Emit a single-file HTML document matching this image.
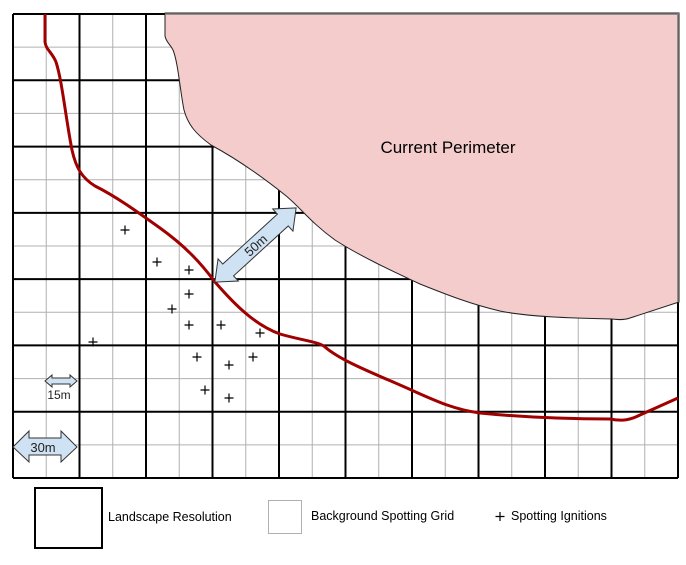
<!DOCTYPE html>
<html><head><meta charset="utf-8"><style>
body{margin:0;background:#fff}
svg{display:block;font-family:"Liberation Sans",sans-serif}
</style></head><body>
<svg width="686" height="565" viewBox="0 0 686 565">
<g id="thin" stroke="#b0b0b0" stroke-width="1"></g>
<g id="thick" stroke="#000" stroke-width="2" fill="none"></g>
<path fill="#f4cccc" stroke="#222" stroke-width="1"
 d="M165,13 L165,36 C166,42 170,44 173,50 C178,62 180,90 184,110 C188,125 196,134 211,145 C235,158 260,175 285,195 C300,207 310,222 335,240 C360,256 390,270 420,284 C445,294 470,304 500,311 C530,317 570,318 612,319 C620,320 625,320 630,318 L679,302 L679,13 Z"/>
<line x1="165" y1="14" x2="679" y2="14" stroke="#777" stroke-width="1.5"/>
<line x1="678" y1="13" x2="678" y2="302" stroke="#777" stroke-width="1.5"/>
<text x="448" y="153" font-size="17" text-anchor="middle" fill="#000">Current Perimeter</text>
<path fill="none" stroke="#a00000" stroke-width="3"
 d="M45,14 L45,42 C46,50 52,52 56,62 C62,80 66,120 72,150 C76,168 82,178 95,186 C115,196 135,210 160,228 C185,246 200,262 215,282 C235,305 255,325 280,334 C300,340 320,342 325,347 C340,360 370,372 400,385 C430,398 450,409 480,413 C520,417 570,419 610,419 C620,421 628,421 640,415 L678,398"/>
<g id="crosses" fill="none" stroke="#000" stroke-width="1.2"></g>
<g transform="translate(255.5,245) rotate(-42.4)">
<path fill="#cfe2f3" stroke="#333" stroke-width="1" d="M-55,0 L-37,-15 L-37,-8 L37,-8 L37,-15 L55,0 L37,15 L37,8 L-37,8 L-37,15 Z"/>
<text x="0" y="5" font-size="13" text-anchor="middle" fill="#222">50m</text>
</g>
<g>
<path fill="#cfe2f3" stroke="#333" stroke-width="1" d="M45,381 L52,375 L52,378 L70,378 L70,375 L77,381 L70,387 L70,384 L52,384 L52,387 Z"/>
<text x="59" y="399" font-size="12" text-anchor="middle" fill="#222">15m</text>
</g>
<g>
<path fill="#cfe2f3" stroke="#333" stroke-width="1" d="M13,447 L29,431 L29,438 L61,438 L61,431 L77,447 L61,462 L61,455 L29,455 L29,462 Z"/>
<text x="43" y="452" font-size="13" text-anchor="middle" fill="#222">30m</text>
</g>
<rect x="35" y="488" width="67" height="60" fill="none" stroke="#000" stroke-width="2"/>
<text x="108" y="521" font-size="12.5">Landscape Resolution</text>
<rect x="268.5" y="500.5" width="33" height="33" fill="none" stroke="#b0b0b0" stroke-width="1"/>
<text x="311" y="520" font-size="12.5">Background Spotting Grid</text>
<path d="M500,512 L500,521 M495.5,516.5 L504.5,516.5" stroke="#000" stroke-width="1.2"/>
<text x="511" y="520" font-size="12.5">Spotting Ignitions</text>
</svg>
<script>
const ignX=[125,157,189,189,172,189,221,260,93,197,229,253,205,229];
const ignY=[230,262,270,294,309,325,325,333,342,357,365,357,390,398];
const NS="http://www.w3.org/2000/svg";
const x0=13,x1=678,y0=14,y1=478,nx=10,ny=7;
const thin=document.getElementById('thin'),thick=document.getElementById('thick');
function ln(g,a,b,c,d,name){const l=document.createElementNS(NS,'line');l.setAttribute('x1',a);l.setAttribute('y1',b);l.setAttribute('x2',c);l.setAttribute('y2',d);


g.appendChild(l);}
const dx=(x1-x0)/nx,dy=(y1-y0)/ny;
for(let i=0;i<nx;i++)ln(thin,x0+dx*(i+.5),y0,x0+dx*(i+.5),y1,'spotting-grid-line');
for(let j=0;j<ny;j++)ln(thin,x0,y0+dy*(j+.5),x1,y0+dy*(j+.5),'spotting-grid-line');
for(let i=0;i<=nx;i++)ln(thick,x0+dx*i,y0,x0+dx*i,y1,'landscape-grid-line');
for(let j=0;j<=ny;j++)ln(thick,x0,y0+dy*j,x1,y0+dy*j,'landscape-grid-line');
const cg=document.getElementById('crosses');
for(let k=0;k<ignX.length;k++){const p=document.createElementNS(NS,'path');const x=ignX[k],y=ignY[k];
p.setAttribute('d',`M${x},${y-4.5} L${x},${y+4.5} M${x-4.5},${y} L${x+4.5},${y}`);


cg.appendChild(p);}
</script>
</body></html>
